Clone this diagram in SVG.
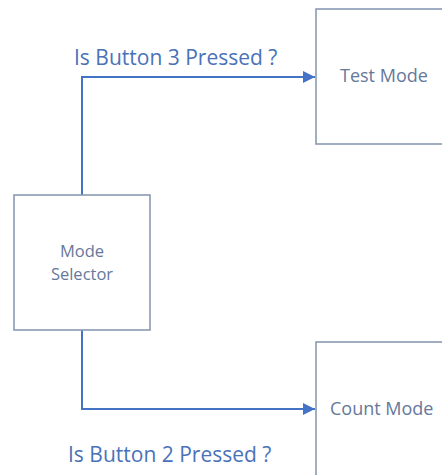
<svg xmlns="http://www.w3.org/2000/svg" width="442" height="475" viewBox="0 0 442 475">
  <defs>
    <marker id="arr" markerWidth="12" markerHeight="12" viewBox="0 0 12 12" refX="12" refY="6" orient="auto" markerUnits="userSpaceOnUse">
      <path d="M0,0 L12,6 L0,12 Z" fill="#4472c4"/>
    </marker>
  </defs>
  <style>
    .box { fill: #ffffff; stroke: #8a9ab3; stroke-width: 1.6; }
    .ntext { font-family: "Open Sans", "Noto Sans", sans-serif; font-size: 18px; fill: #66789a; }
    .stext { font-size: 16.5px; }
    .ltext { font-family: "Open Sans", "Noto Sans", sans-serif; font-size: 21px; fill: #4a72b8; }
    .conn { fill: none; stroke: #4472c4; stroke-width: 2; }
  </style>
  <rect width="442" height="475" fill="#ffffff"/>
  <g id="connectors">
    <path class="conn" d="M82,195 V77 H315" marker-end="url(#arr)"/>
    <path class="conn" d="M82,330 V409 H315" marker-end="url(#arr)"/>
  </g>
  <g id="mode-selector">
    <rect class="box" x="14" y="195" width="136" height="135"/>
    <text class="ntext stext" x="82" y="257" text-anchor="middle">Mode</text>
    <text class="ntext stext" x="82" y="280" text-anchor="middle">Selector</text>
  </g>
  <g id="test-mode">
    <rect class="box" x="316" y="9" width="140" height="135"/>
    <text class="ntext" x="340" y="82">Test Mode</text>
  </g>
  <g id="count-mode">
    <rect class="box" x="316" y="342" width="140" height="150"/>
    <text class="ntext" x="330" y="415">Count Mode</text>
  </g>
  <g id="labels">
    <text class="ltext" x="74" y="65">Is Button 3 Pressed ?</text>
    <text class="ltext" x="68" y="462">Is Button 2 Pressed ?</text>
  </g>
</svg>
